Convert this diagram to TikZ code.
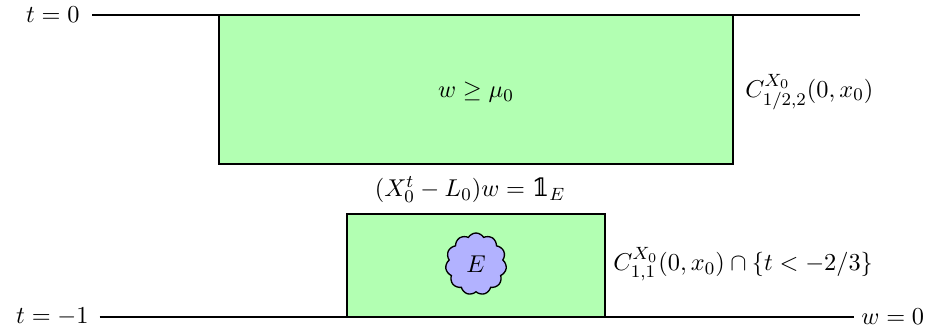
\documentclass[tikz,border=0pt]{standalone}
\usepackage{fontspec}
\newfontfamily\dvs{DejaVu Serif}
\newcommand{\indic}{\mbox{\dvs\char"1D7D9}}
\usetikzlibrary{shapes.symbols}
\begin{document}
\begin{tikzpicture}[x=0.45pt,y=-0.45pt,
  every node/.style={font=\fontsize{11.3}{13.5}\selectfont},
  region/.style={draw=black,line width=1pt,fill=green!30},
  blob/.style={cloud,cloud puffs=11,cloud puff arc=120,aspect=1,draw=black,line width=0.6pt,fill=blue!30,minimum width=61*0.45pt,minimum height=62*0.45pt,inner sep=0pt},
  axis/.style={line width=1pt},
  lbl/.style={inner sep=0pt}]
\useasboundingbox (0,0) rectangle (936,334);
\draw[region] (219,15) rectangle (733,164);
\node[lbl] (top) at (476,92) {$w \geq \mu_0$};
\draw[region] (347,214) rectangle (605,317);
\node[blob] (E) at (476,264) {$E$};
\node[lbl,anchor=west] (c1) at (745,92) {$C^{X_0}_{1/2,2}(0,x_0)$};
\node[lbl,anchor=west] (c2) at (613,264) {$C^{X_0}_{1,1}(0,x_0)\cap\{t<-2/3\}$};
\node[lbl] (eq) at (470,190) {$(X_0^t-L_0)w=\indic_E$};
\node[lbl,anchor=east] (t0) at (80,15) {$t=0$};
\node[lbl,anchor=east] (t1) at (89,317) {$t=-1$};
\node[lbl,anchor=west] (w0) at (861,317) {$w=0$};
\coordinate (t0end) at (860,15);
\draw[axis] ([xshift=5.4pt]t0.east) -- (t0end);
\draw[axis] ([xshift=4.8pt]t1.east) -- ([xshift=-3pt]w0.west);
\end{tikzpicture}
\end{document}
